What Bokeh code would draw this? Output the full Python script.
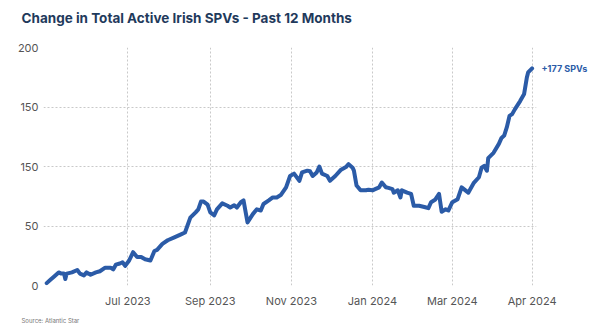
import pandas as pd
from bokeh.plotting import figure
from bokeh.models import FixedTicker, Label, Range1d, ColumnDataSource, Title
from bokeh.embed import file_html
from bokeh.resources import INLINE

dates = [
    "2023-05-01", "2023-05-04", "2023-05-06", "2023-05-10", "2023-05-12", "2023-05-14",
    "2023-05-15", "2023-05-16", "2023-05-20", "2023-05-24", "2023-05-26", "2023-05-29",
    "2023-05-31", "2023-06-03", "2023-06-07", "2023-06-10", "2023-06-14", "2023-06-18",
    "2023-06-20", "2023-06-22", "2023-06-25", "2023-06-27", "2023-06-29", "2023-07-02",
    "2023-07-05", "2023-07-08", "2023-07-11", "2023-07-14", "2023-07-18", "2023-07-21",
    "2023-07-23", "2023-07-27", "2023-07-31", "2023-08-05", "2023-08-10", "2023-08-13",
    "2023-08-17", "2023-08-21", "2023-08-23", "2023-08-25", "2023-08-27", "2023-08-30",
    "2023-09-01", "2023-09-04", "2023-09-06", "2023-09-10", "2023-09-14", "2023-09-16",
    "2023-09-19", "2023-09-21", "2023-09-24", "2023-09-26", "2023-09-29", "2023-10-03",
    "2023-10-06", "2023-10-09", "2023-10-11", "2023-10-15", "2023-10-18", "2023-10-21",
    "2023-10-24", "2023-10-28", "2023-10-31", "2023-11-03", "2023-11-07", "2023-11-09",
    "2023-11-13", "2023-11-15", "2023-11-17", "2023-11-20", "2023-11-22", "2023-11-24",
    "2023-11-28", "2023-11-30", "2023-12-04", "2023-12-08", "2023-12-12", "2023-12-14",
    "2023-12-17", "2023-12-18", "2023-12-20", "2023-12-23", "2023-12-27", "2023-12-29",
    "2024-01-01", "2024-01-03", "2024-01-06", "2024-01-08", "2024-01-11", "2024-01-13",
    "2024-01-16", "2024-01-17", "2024-01-20", "2024-01-22", "2024-01-23", "2024-01-27",
    "2024-01-30", "2024-02-01", "2024-02-05", "2024-02-09", "2024-02-12", "2024-02-14",
    "2024-02-17", "2024-02-20", "2024-02-22", "2024-02-25", "2024-02-27", "2024-03-01",
    "2024-03-05", "2024-03-08", "2024-03-13", "2024-03-17", "2024-03-21", "2024-03-23",
    "2024-03-25", "2024-03-27", "2024-03-28", "2024-04-01", "2024-04-05", "2024-04-07",
    "2024-04-09", "2024-04-11", "2024-04-13", "2024-04-15", "2024-04-17", "2024-04-21",
    "2024-04-24", "2024-04-26", "2024-04-27", "2024-04-30",
]
spvs = [
    2, 5, 7, 11, 10, 10,
    5.5, 10, 11, 13, 10, 8.5,
    11, 9, 11, 12, 15, 15,
    13.5, 17.5, 18.5, 19.5, 16.5, 21,
    28, 24, 24, 22, 21, 29,
    30, 35, 38, 40.5, 43, 44.5,
    57, 61.5, 64, 70.5, 70.5, 68,
    61.5, 59, 64, 69, 67, 65.5,
    67.5, 65.5, 70, 71.5, 53, 60,
    64, 63, 68.5, 71.5, 74, 74,
    76, 82.5, 92, 94, 88, 95,
    96.5, 96, 92, 95, 100, 94,
    92, 88, 92, 97, 99.5, 102,
    99, 96.5, 84, 80, 80, 80.5,
    80, 81, 82.5, 86.5, 82.5, 82,
    81, 78, 80, 74, 80, 78,
    77, 67, 67, 66, 65, 70,
    72, 77, 62, 64, 63, 70,
    72.5, 82.5, 78, 86, 91, 99,
    100.5, 96.5, 107, 111.5, 119, 124,
    126, 133, 142.5, 144, 148, 155,
    161, 174.5, 179, 182.5,
]

x_tick_dates = ["2023-07-01", "2023-09-01", "2023-11-01", "2024-01-01", "2024-03-01", "2024-04-30"]
x_tick_labels = ["Jul 2023", "Sep 2023", "Nov 2023", "Jan 2024", "Mar 2024", "Apr 2024"]
y_ticks = [0, 50, 100, 150, 200]
y_tick_labels = ["0", "50", "150", "150", "200"]

title_text = "Change in Total Active Irish SPVs - Past 12 Months"
end_label = "+177 SPVs"
source_text = "Source: Atlantic Star"

LINE = "#2b5ba7"
TITLE = "#1f3a5c"
FONT = "Inter"


def ms(d):
    return pd.Timestamp(d).value / 1e6


src = ColumnDataSource(dict(x=[ms(d) for d in dates], y=spvs))

anchor = pd.Timestamp("2023-07-01")
x_start = (anchor - pd.Timedelta(days=63.4)).value / 1e6
x_end = (anchor + pd.Timedelta(days=307.3)).value / 1e6

p = figure(width=600, height=329, x_axis_type="datetime", output_backend="svg",
           toolbar_location=None, min_border_left=43, min_border_right=64,
           min_border_top=47, min_border_bottom=44,
           x_range=Range1d(x_start, x_end), y_range=Range1d(0, 200))
p.outline_line_color = None
p.background_fill_color = "white"
p.border_fill_color = "white"

xt = [ms(d) for d in x_tick_dates]
p.xaxis.ticker = FixedTicker(ticks=xt)
p.xgrid.ticker = FixedTicker(ticks=xt)
p.xaxis.major_label_overrides = {t: l for t, l in zip(xt, x_tick_labels)}
p.yaxis.ticker = FixedTicker(ticks=y_ticks)
p.ygrid.ticker = FixedTicker(ticks=y_ticks)
p.yaxis.major_label_overrides = {t: l for t, l in zip(y_ticks, y_tick_labels)}

for ax in (p.xaxis, p.yaxis):
    ax.axis_line_color = None
    ax.major_tick_line_color = None
    ax.minor_tick_line_color = None
    ax.major_tick_out = 0
    ax.major_tick_in = 0
    ax.minor_tick_out = 0
    ax.major_label_text_font = FONT
    ax.major_label_text_font_size = "11px"
    ax.major_label_text_color = "#555555"
p.xaxis.major_label_standoff = 8
p.yaxis.major_label_standoff = 5

for g in (p.xgrid, p.ygrid):
    g.grid_line_color = "#c9c9c9"
    g.grid_line_dash = "2 2"
    g.grid_line_width = 1

p.line("x", "y", source=src, line_width=4, line_color=LINE, line_join="round", line_cap="round")

p.add_layout(Label(x=5, x_units="screen", y=spvs[-1], y_units="data", text=end_label,
                   text_font=FONT, text_font_style="bold", text_font_size="9px",
                   text_color=LINE, text_baseline="middle"), "right")
p.add_layout(Label(x=-22, y=30, x_units="screen", y_units="screen", text=title_text,
                   text_font=FONT, text_font_style="bold", text_font_size="13.5px",
                   text_color=TITLE, text_baseline="middle"), "above")
p.add_layout(Title(text=source_text, align="left", offset=-22, text_font=FONT,
                   text_font_size="6px", text_font_style="normal", standoff=9,
                   text_color="#777777"), "below")

open("out.html", "w").write(file_html(p, INLINE))
